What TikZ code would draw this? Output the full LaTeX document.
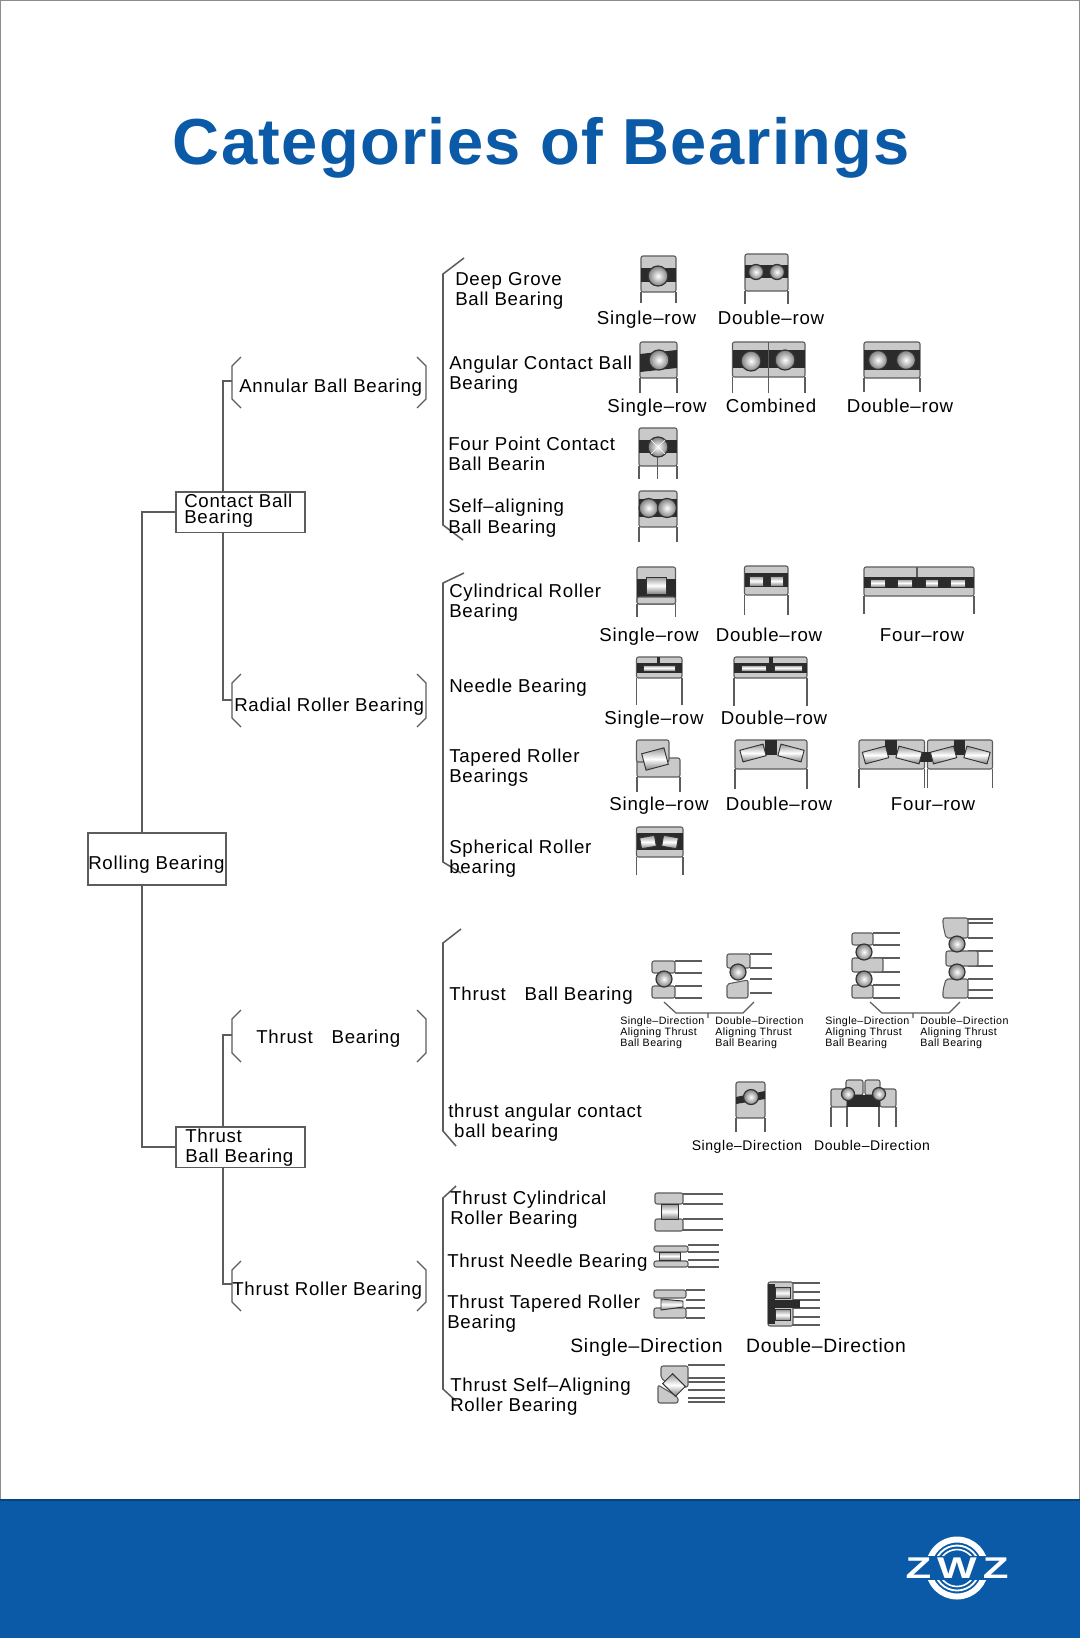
\documentclass[tikz,border=0pt]{standalone}
\usepackage{fontspec}
\setmainfont{Liberation Sans}[LetterSpace=4]
\newfontfamily\titlefont{Liberation Sans}[LetterSpace=2]
\newfontfamily\logofont{Liberation Sans}[LetterSpace=20,FakeStretch=1.4]
\usepackage{tikz}
\definecolor{zwzblue}{HTML}{0A5AA8}
\definecolor{ringgray}{HTML}{C9C9C9}
\definecolor{rimgray}{HTML}{5C5C5C}
\definecolor{darkband}{HTML}{2B2B2B}
\tikzset{
  treeline/.style={draw=rimgray, line width=1.15pt},
  ringpart/.style={fill=ringgray, draw=rimgray, line width=0.8pt, rounded corners=1.5pt},
  rimline/.style={draw=rimgray, line width=0.9pt},
  bandpart/.style={fill=darkband},
  rollerpart/.style={draw=black!80, line width=0.7pt, top color=black!40, bottom color=black!50, middle color=white},
  lab/.style={anchor=base west, inner sep=0pt, align=left, font=\fontsize{14}{15.5}\selectfont},
  rowcap/.style={anchor=base, inner sep=0pt, font=\fontsize{14}{15.5}\selectfont},
  midcap/.style={anchor=base, inner sep=0pt, font=\fontsize{10.5}{12}\selectfont},
  tinycap/.style={anchor=north west, inner sep=0pt, align=left, font=\fontsize{8}{8.3}\selectfont},
  boxnode/.style={draw=rimgray, line width=1.15pt, anchor=north west, inner sep=0pt}
}
% outer shape with two legs
\newcommand{\casing}[5]{
  \draw[rimline] (#1,#4) -- (#1,#5) (#2,#4) -- (#2,#5);
  \draw[ringpart] (#1,#3) rectangle (#2,#4);
}
\newcommand{\ballat}[3]{\path[shade, draw=black!80, line width=0.9pt, inner color=white, outer color=black!50] (#1,#2) circle (#3);}
\newcommand{\rollerat}[5]{\draw[rollerpart, shift={(#1,#2)}, rotate=#5] (-#3/2,-#4/2) rectangle (#3/2,#4/2);}
\newcommand{\bandat}[4]{\fill[bandpart] (#1,#3) rectangle (#2,#4);}
\newcommand{\plate}[4]{\draw[ringpart] (#1,#3) rectangle (#2,#4);}
\newcommand{\shaftlines}[3]{\foreach \yy in {#3} \draw[rimline] (#1,\yy) -- (#2,\yy);}
\newcommand{\bracepair}[4]{
  \draw[treeline, line width=1pt] (#1+9,#3) -- (#1,#3+9) -- (#1,#4-9) -- (#1+9,#4);
  \draw[treeline, line width=1pt] (#2-9,#3) -- (#2,#3+9) -- (#2,#4-9) -- (#2-9,#4);
}
\begin{document}
\begin{tikzpicture}[x=0.75pt,y=-0.75pt]
  \useasboundingbox (0,0) rectangle (1080,1638);
  \fill[white] (0,0) rectangle (1080,1638);
  \draw[black!45, line width=0.8pt] (0,0) rectangle (1080,1500);
  \fill[zwzblue] (0,1500) rectangle (1080,1638);
  \draw[zwzblue!75!black, line width=0.8pt] (0,1500) -- (1080,1500);
  \node[anchor=center, inner sep=0pt, text=zwzblue, font=\titlefont\bfseries\fontsize{48.8}{55}\selectfont] (title) at (541.5,148) {Categories of Bearings};

  % tree on the left
  \node[boxnode, minimum width=103.5pt, minimum height=39pt] (rb) at (87,832) {};
  \node[boxnode, minimum width=97pt, minimum height=30.7pt] (cb) at (175,491) {};
  \node[boxnode, minimum width=97pt, minimum height=30.7pt] (tb) at (175,1126) {};
  \node[lab] (rbt) at (88,869) {Rolling Bearing};
  \node[lab, font=\fontsize{14}{11.8}\selectfont] (cbt) at (184,523.7) {Contact Ball\\Bearing};
  \node[lab] (tbt) at (185,1162.7) {Thrust\\Ball Bearing};
  \coordinate (rbn) at (142,832);
  \coordinate (rbs) at (142,884);
  \coordinate (cbn) at (223,491);
  \coordinate (cbs) at (223,532);
  \coordinate (tbn) at (223,1126);
  \coordinate (tbs) at (223,1167);
  \coordinate (abl) at (232,381);
  \coordinate (rrl) at (232,700);
  \coordinate (tgl) at (232,1035);
  \coordinate (trl) at (232,1284);
  \draw[treeline] (cb.west) -| (rbn);
  \draw[treeline] (tb.west) -| (rbs);
  \draw[treeline] (cbn) |- (abl);
  \draw[treeline] (cbs) |- (rrl);
  \draw[treeline] (tbn) |- (tgl);
  \draw[treeline] (tbs) |- (trl);
  \bracepair{232}{426}{357}{408}
  \bracepair{232}{426}{674}{727}
  \bracepair{232}{426}{1010}{1062}
  \bracepair{232}{426}{1261}{1311}
  \node[lab] (abt) at (239,392) {Annular Ball Bearing};
  \node[lab] (rrt) at (234,711) {Radial Roller Bearing};
  \node[lab] (tgt) at (256,1043) {Thrust\quad Bearing};
  \node[lab] (trt) at (232,1295) {Thrust Roller Bearing};

  % big brackets
  \draw[treeline] (464,258) -- (443,274) -- (443,525) -- (463,540);
  \draw[treeline] (464,573) -- (443,583) -- (443,862) -- (461,873);
  \draw[treeline] (461,929) -- (443,943) -- (443,1131) -- (456,1146);
  \draw[treeline] (456,1186) -- (443,1198) -- (443,1389) -- (456,1401);

  % ball bearing labels
  \node[lab] (dgb) at (455,305.7) {Deep Grove\\Ball Bearing};
  \node[lab] (acb) at (449,389.7) {Angular Contact Ball\\Bearing};
  \node[lab] (fpb) at (448,470.7) {Four Point Contact\\Ball Bearin};
  \node[lab] (sab) at (448,533.2) {Self–aligning\\Ball Bearing};
  \node[rowcap] (c1) at (646.5,324.5) {Single–row};
  \node[rowcap] (c2) at (771,324.5) {Double–row};
  \node[rowcap] (c3) at (657,412) {Single–row};
  \node[rowcap] (c4) at (771,412) {Combined};
  \node[rowcap] (c5) at (900,412) {Double–row};

  % deep groove
  \casing{641}{676}{256}{292}{303}
  \bandat{641}{676}{268}{282}
  \ballat{658}{276}{10}
  \casing{745}{788}{254}{291}{304}
  \bandat{745}{788}{265}{278}
  \ballat{756}{272}{7.5}
  \ballat{777}{272}{7.5}
  % angular contact
  \casing{640}{677}{342}{378}{393}
  \fill[bandpart] (640,354) -- (677,350) -- (677,368) -- (640,372) -- cycle;
  \ballat{659}{360}{10}
  \casing{732.5}{805}{342}{377}{393}
  \bandat{732.5}{805}{350}{368}
  \draw[rimline] (768.6,342) -- (768.6,393);
  \ballat{751}{361}{10}
  \ballat{785}{360}{10}
  \casing{864}{920}{342}{378}{392}
  \bandat{864}{920}{350}{370}
  \ballat{878}{360}{9.5}
  \ballat{906}{360}{9.5}
  % four point, self aligning
  \casing{639}{677}{428}{466}{479}
  \bandat{639}{677}{440}{453}
  \draw[rimline] (657.5,455) -- (657.5,479);
  \ballat{658}{447}{10}
  \draw[white, line width=0.5pt] (651,440) -- (665,454) (665,440) -- (651,454);
  \casing{639}{677}{491}{527}{542}
  \bandat{639}{677}{499}{517}
  \ballat{648.6}{508}{9.5}
  \ballat{667}{508}{9.5}

  % roller bearing labels
  \node[lab] (crb) at (449,617.7) {Cylindrical Roller\\Bearing};
  \node[lab] (nb) at (449,692) {Needle Bearing};
  \node[lab] (tpb) at (449,782.7) {Tapered Roller\\Bearings};
  \node[lab] (spb) at (449,873.7) {Spherical Roller\\bearing};
  \node[rowcap] (c6) at (649,641) {Single–row};
  \node[rowcap] (c7) at (769,641) {Double–row};
  \node[rowcap] (c8) at (922,641) {Four–row};
  \node[rowcap] (c9) at (654,724.5) {Single–row};
  \node[rowcap] (c10) at (774,724.5) {Double–row};
  \node[rowcap] (c11) at (659,810) {Single–row};
  \node[rowcap] (c12) at (779,810) {Double–row};
  \node[rowcap] (c13) at (933,810) {Four–row};

  % cylindrical
  \casing{637}{675.5}{567}{604}{617}
  \bandat{637}{675.5}{579}{597}
  \plate{637}{675.5}{597}{604}
  \rollerat{656}{585.5}{20}{17}{0}
  \casing{744.5}{788}{566}{595}{615}
  \bandat{744.5}{788}{573}{587}
  \rollerat{756}{581}{14}{10}{0}
  \rollerat{776.5}{581}{13}{10}{0}
  \casing{864}{974}{567}{596}{614}
  \bandat{864}{974}{577}{588}
  \draw[rimline] (917,567) -- (917,577);
  \rollerat{877.5}{583}{15}{8}{0}
  \rollerat{904.5}{583}{15}{8}{0}
  \rollerat{931.5}{583}{13}{8}{0}
  \rollerat{957.5}{583}{15}{8}{0}
  % needle
  \casing{636.5}{682}{657}{678}{705}
  \bandat{636.5}{682}{663}{673}
  \rollerat{659}{668}{32}{6}{0}
  \bandat{656.5}{660}{657}{663}
  \casing{734}{807}{657}{678}{706}
  \bandat{734}{807}{663}{673}
  \rollerat{753.5}{668}{25}{6}{0}
  \rollerat{788}{668}{28}{6}{0}
  \bandat{769}{773}{657}{663}
  % tapered
  \draw[rimline] (637,777) -- (637,792) (680,777) -- (680,792);
  \plate{637}{680}{758}{777}
  \plate{636.5}{669}{740}{762}
  \rollerat{655}{759}{23}{17}{15}
  \casing{735}{807}{740}{769}{789}
  \bandat{764.5}{777}{740}{755}
  \rollerat{753}{753}{24}{12}{15}
  \rollerat{791}{753}{24}{12}{-15}
  \casing{859}{924.5}{740}{769}{788}
  \casing{927.5}{992.5}{740}{769}{788}
  \bandat{884.5}{897}{740}{755}
  \bandat{954}{964.5}{740}{755}
  \bandat{919}{932}{752}{762}
  \rollerat{875.5}{755}{24}{12}{15}
  \rollerat{909}{755}{24}{12}{-15}
  \rollerat{943.5}{755}{24}{12}{15}
  \rollerat{977}{755}{24}{12}{-15}
  % spherical
  \casing{636.5}{683}{827}{857}{875}
  \bandat{636.5}{683}{833}{850}
  \rollerat{648}{842}{15}{11}{10}
  \rollerat{670}{842}{15}{11}{-10}

  % thrust ball
  \node[lab] (tbb) at (449,1000) {Thrust\quad Ball Bearing};
  \node[lab] (tac) at (448,1137.7) {thrust angular contact\\\ ball bearing};
  \shaftlines{675}{702}{961,973,986,998}
  \plate{652}{675}{961}{973}
  \plate{652}{675}{986}{998}
  \ballat{664}{979}{8}
  \shaftlines{750}{772}{954,968,979,993}
  \plate{727}{750}{954}{968}
  \draw[ringpart] (727,984) -- (748,980) -- (748,998) -- (727,998) -- cycle;
  \ballat{738}{972}{8}
  \draw[rimline] (664,1002) -- (676,1013) -- (743,1013) -- (754,1002) (708,1013) -- (708,1018);
  \node[tinycap] (s1) at (620,1016) {Single–Direction\\Aligning Thrust\\Ball Bearing};
  \node[tinycap] (s2) at (715,1016) {Double–Direction\\Aligning Thrust\\Ball Bearing};
  \shaftlines{873}{900}{933,945,958,972,985,998}
  \plate{852}{873}{933}{945}
  \plate{852}{883}{958}{972}
  \plate{852}{873}{985}{998}
  \ballat{864}{952}{8}
  \ballat{864}{979}{8}
  \shaftlines{968}{993}{919,923,938,951,966,979,990,998}
  \draw[ringpart] (943,918) -- (968,918) -- (968,938) -- (946,938) -- (943,925) -- cycle;
  \plate{946}{978}{951}{966}
  \draw[ringpart] (943,990) -- (946,979) -- (968,979) -- (968,998) -- (943,998) -- cycle;
  \ballat{957}{944}{8}
  \ballat{957}{972}{8}
  \draw[rimline] (870,1002) -- (882,1013) -- (949,1013) -- (960,1002) (913,1013) -- (913,1018);
  \node[tinycap] (s3) at (825,1016) {Single–Direction\\Aligning Thrust\\Ball Bearing};
  \node[tinycap] (s4) at (920,1016) {Double–Direction\\Aligning Thrust\\Ball Bearing};
  % thrust angular
  \casing{736}{765}{1082}{1118}{1132}
  \fill[bandpart] (736,1097) -- (765,1091) -- (765,1099) -- (736,1104) -- cycle;
  \ballat{751}{1097}{7.5}
  \draw[rimline] (831,1107) -- (831,1127) (847,1107) -- (847,1127) (879,1107) -- (879,1127) (896,1107) -- (896,1127);
  \plate{831}{847}{1089}{1107}
  \plate{880}{896}{1089}{1107}
  \plate{846}{863}{1080}{1095}
  \plate{865}{880}{1080}{1095}
  \bandat{847}{880}{1095}{1107}
  \ballat{848}{1094}{6.5}
  \ballat{879}{1094}{6.5}
  \node[midcap] (c14) at (747,1150.5) {Single–Direction};
  \node[midcap] (c15) at (872,1150.5) {Double–Direction};

  % thrust roller
  \node[lab] (tcr) at (450,1224.7) {Thrust Cylindrical\\Roller Bearing};
  \node[lab] (tnb) at (447,1267) {Thrust Needle Bearing};
  \node[lab] (ttr) at (447,1328.7) {Thrust Tapered Roller\\Bearing};
  \node[lab] (tsa) at (450,1411.7) {Thrust Self–Aligning\\Roller Bearing};
  \node[rowcap, font=\fontsize{14.5}{16}\selectfont] (c16) at (646.5,1352) {Single–Direction};
  \node[rowcap, font=\fontsize{14.5}{16}\selectfont] (c17) at (826,1352) {Double–Direction};
  \shaftlines{683}{723}{1194,1204,1219,1230}
  \plate{655}{683}{1193}{1204}
  \plate{655}{683}{1219}{1231}
  \rollerat{669.5}{1211.5}{17}{15}{0}
  \shaftlines{688}{719}{1245,1252,1260,1267}
  \plate{654}{688}{1246}{1252}
  \plate{654}{688}{1261}{1267}
  \rollerat{669.5}{1256}{21}{8}{0}
  \shaftlines{686}{705}{1290,1300,1308,1318}
  \plate{654}{686}{1290}{1298}
  \plate{654}{686}{1308}{1318}
  \draw[rollerpart] (661,1299) -- (683,1301) -- (683,1307) -- (661,1310) -- cycle;
  \shaftlines{793}{820}{1283,1292,1300,1308,1317,1325}
  \plate{768}{793}{1282}{1326}
  \bandat{768}{775}{1284}{1324}
  \bandat{775}{800}{1300}{1308}
  \rollerat{782.5}{1293}{15}{11}{0}
  \rollerat{782.5}{1315}{15}{11}{0}
  \shaftlines{688}{725}{1365,1378,1382,1390,1398,1402}
  \draw[ringpart] (661,1366) -- (688,1366) -- (688,1387) -- (672,1387) -- (661,1378) -- cycle;
  \draw[ringpart] (658,1385) -- (678,1397) -- (678,1403) -- (658,1403) -- cycle;
  \rollerat{674}{1385}{18}{14}{-45}

  % logo
  \foreach \rr/\ww in {28.5/4.5, 22.5/1.4, 18.5/1.2} \draw[white, line width=\ww pt] (957,1568) circle (\rr);
  \fill[zwzblue] (925,1556) rectangle (989,1580);
  \node[anchor=center, inner sep=0pt, text=white, font=\logofont\bfseries\fontsize{22.5}{24}\selectfont] (logo) at (957,1568) {ZWZ};
\end{tikzpicture}
\end{document}
